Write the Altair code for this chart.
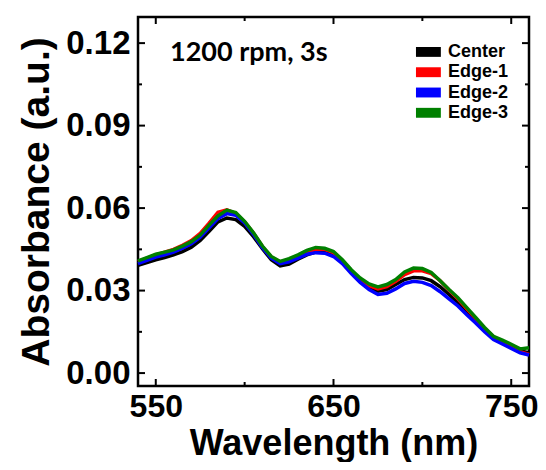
import altair as alt
import pandas as pd

wavelength = list(range(540, 761, 5))

center = [0.0392, 0.0402, 0.0412, 0.0420, 0.0430, 0.0442, 0.0458, 0.0482, 0.0516, 0.0550,
          0.0564, 0.0558, 0.0534, 0.0496, 0.0452, 0.0412, 0.0390, 0.0396, 0.0414, 0.0430,
          0.0440, 0.0440, 0.0428, 0.0402, 0.0368, 0.0336, 0.0312, 0.0298, 0.0304, 0.0322,
          0.0340, 0.0348, 0.0346, 0.0336, 0.0314, 0.0286, 0.0256, 0.0222, 0.0190, 0.0158,
          0.0130, 0.0112, 0.0096, 0.0080, 0.0074]
edge1 = [0.0405, 0.0418, 0.0430, 0.0440, 0.0450, 0.0465, 0.0482, 0.0508, 0.0545, 0.0585,
         0.0594, 0.0580, 0.0550, 0.0508, 0.0460, 0.0422, 0.0404, 0.0412, 0.0425, 0.0440,
         0.0450, 0.0450, 0.0438, 0.0408, 0.0372, 0.0340, 0.0318, 0.0306, 0.0314, 0.0334,
         0.0358, 0.0372, 0.0372, 0.0362, 0.0336, 0.0302, 0.0270, 0.0234, 0.0198, 0.0162,
         0.0132, 0.0115, 0.0098, 0.0078, 0.0068]
edge2 = [0.0398, 0.0410, 0.0422, 0.0430, 0.0440, 0.0454, 0.0470, 0.0494, 0.0528, 0.0562,
         0.0580, 0.0574, 0.0546, 0.0504, 0.0456, 0.0418, 0.0398, 0.0405, 0.0418, 0.0432,
         0.0438, 0.0436, 0.0424, 0.0398, 0.0362, 0.0330, 0.0304, 0.0286, 0.0290, 0.0306,
         0.0326, 0.0334, 0.0330, 0.0318, 0.0296, 0.0270, 0.0244, 0.0212, 0.0182, 0.0150,
         0.0122, 0.0106, 0.0090, 0.0074, 0.0066]
edge3 = [0.0408, 0.0420, 0.0432, 0.0440, 0.0448, 0.0462, 0.0478, 0.0502, 0.0538, 0.0572,
         0.0593, 0.0584, 0.0552, 0.0510, 0.0462, 0.0424, 0.0406, 0.0416, 0.0430, 0.0446,
         0.0457, 0.0454, 0.0442, 0.0412, 0.0376, 0.0346, 0.0324, 0.0313, 0.0322, 0.0340,
         0.0368, 0.0382, 0.0380, 0.0366, 0.0336, 0.0304, 0.0274, 0.0238, 0.0202, 0.0166,
         0.0134, 0.0120, 0.0105, 0.0088, 0.0092]

series_names = ["Center", "Edge-1", "Edge-2", "Edge-3"]
series_colors = ["#000000", "#ff0000", "#0000ff", "#008000"]
series_values = [center, edge1, edge2, edge3]

x_major = [550, 650, 750]
x_minor = [600, 700]
y_major = [0.00, 0.03, 0.06, 0.09, 0.12]
y_minor = [0.015, 0.045, 0.075, 0.105]
x_domain = [540, 760]
y_domain = [-0.0047, 0.1295]
annotation = "1200 rpm, 3s"

W, H = 391, 369
FONT = "Liberation Sans"

rows = []
for i, (name, vals) in enumerate(zip(series_names, series_values)):
    for wl, v in zip(wavelength, vals):
        rows.append({"wl": wl, "abs": v, "series": name, "ord": i})
df = pd.DataFrame(rows)

xs = alt.Scale(domain=x_domain, nice=False, zero=False)
ys = alt.Scale(domain=y_domain, nice=False, zero=False)
cs = alt.Scale(domain=series_names, range=series_colors)

lines = alt.Chart(df).mark_line(strokeWidth=3.5).encode(
    x=alt.X("wl:Q", scale=xs,
            axis=alt.Axis(values=x_major, title="Wavelength (nm)", ticks=False, domain=False,
                          grid=False, labelPadding=5, titlePadding=4, format="d",
                          labelFontSize=32, titleFontSize=36)),
    y=alt.Y("abs:Q", scale=ys,
            axis=alt.Axis(values=y_major, title="Absorbance (a.u.)", ticks=False, domain=False,
                          grid=False, labelPadding=8, titlePadding=9, format=".2f",
                          labelFontSize=33, titleFontSize=39)),
    color=alt.Color("series:N", scale=cs, legend=None),
    detail="series:N",
    order=alt.Order("ord:Q"),
)

# legend drawn inside the plot, top right
leg_x0, leg_x1, leg_tx = 696.4, 710.4, 714.4
leg_top, leg_step, leg_half = 0.1168, 0.00738, 0.0018
leg = pd.DataFrame({"series": series_names})
leg["i"] = range(len(series_names))
leg_base = alt.Chart(leg).transform_calculate(
    yc="%f - datum.i * %f" % (leg_top, leg_step),
    y0="%f - datum.i * %f - %f" % (leg_top, leg_step, leg_half),
    y1="%f - datum.i * %f + %f" % (leg_top, leg_step, leg_half),
    x0="%f" % leg_x0, x1="%f" % leg_x1, tx="%f" % leg_tx,
)
leg_rect = leg_base.mark_rect().encode(
    x=alt.X("x0:Q", scale=xs), x2="x1:Q",
    y=alt.Y("y0:Q", scale=ys), y2="y1:Q",
    color=alt.Color("series:N", scale=cs, legend=None),
)
leg_text = leg_base.mark_text(font=FONT, fontSize=18, fontWeight="bold", align="left",
                              baseline="middle", color="black").encode(
    x=alt.X("tx:Q", scale=xs), y=alt.Y("yc:Q", scale=ys), text="series:N")

def xticks(vals, length, top):
    d = pd.DataFrame({"v": vals})
    if top:
        enc = dict(y=alt.value(0), y2=alt.value(length))
    else:
        enc = dict(y=alt.value(H), y2=alt.value(H - length))
    return alt.Chart(d).mark_rule(strokeWidth=2, color="black").encode(
        x=alt.X("v:Q", scale=xs), **enc)

def yticks(vals, length, right):
    d = pd.DataFrame({"v": vals})
    if right:
        enc = dict(x=alt.value(W), x2=alt.value(W - length))
    else:
        enc = dict(x=alt.value(0), x2=alt.value(length))
    return alt.Chart(d).mark_rule(strokeWidth=2, color="black").encode(
        y=alt.Y("v:Q", scale=ys), **enc)

ticks = [
    xticks(x_major, 7, False), xticks(x_major, 7, True),
    xticks(x_minor, 4, False), xticks(x_minor, 4, True),
    yticks(y_major, 7, False), yticks(y_major, 7, True),
    yticks(y_minor, 4, False), yticks(y_minor, 4, True),
]

label = alt.Chart(pd.DataFrame({"t": [annotation], "x": [558], "y": [0.1165]})).mark_text(
    font="Lato", fontSize=27, fontWeight="bold", align="left", baseline="middle", color="black"
).encode(x=alt.X("x:Q", scale=xs), y=alt.Y("y:Q", scale=ys), text="t:N")

chart = alt.layer(lines, *ticks, label, leg_rect, leg_text).properties(
    width=W, height=H,
    autosize=alt.AutoSizeParams(type="none"),
    padding={"left": 130, "top": 9, "right": 9, "bottom": 76},
).configure_view(stroke="black", strokeWidth=2.5).configure_axis(
    labelFont=FONT, labelFontWeight="bold", labelColor="black",
    titleFont=FONT, titleFontWeight="bold", titleColor="black",
)

chart.save("out.html", embed_options={"renderer": "svg", "actions": False})
